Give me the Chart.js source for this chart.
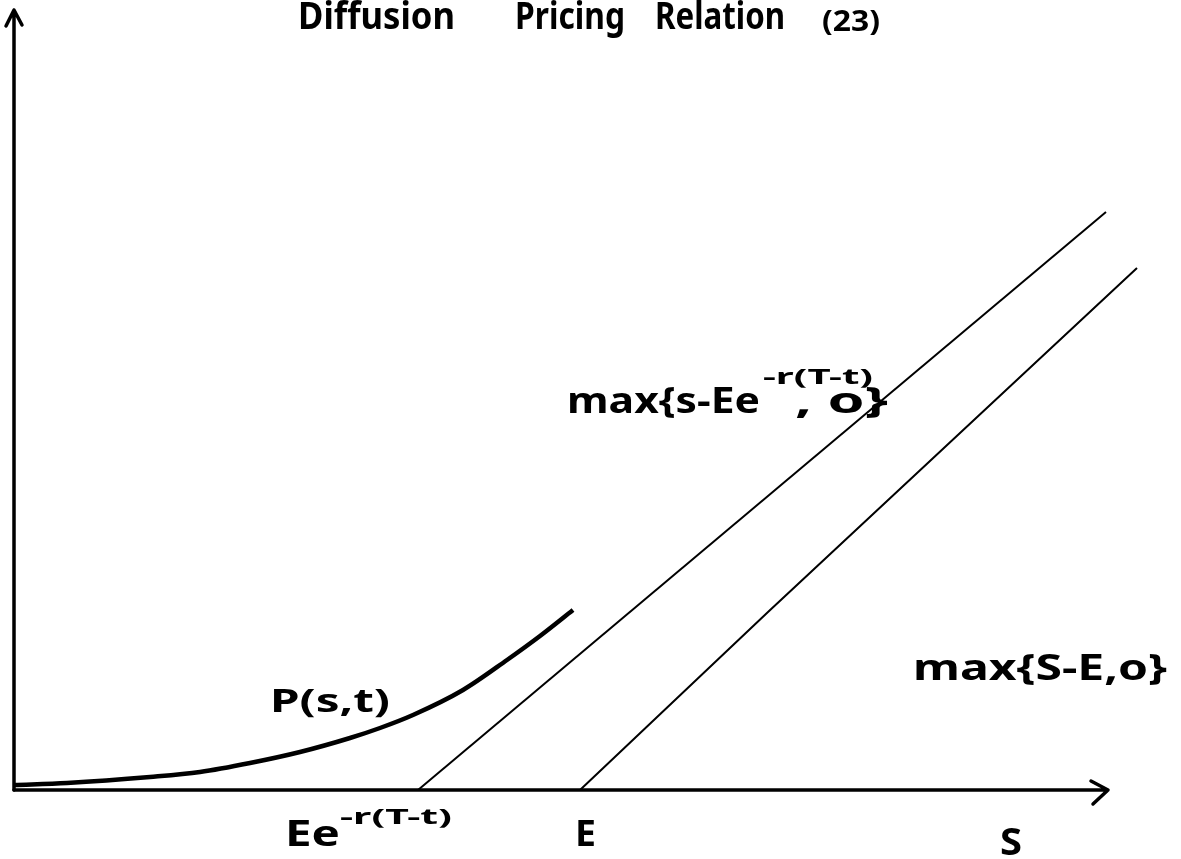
<!DOCTYPE html>
<html>
<head>
<meta charset="utf-8">
<title>Diffusion Pricing Relation</title>
<script src="https://cdn.jsdelivr.net/npm/chart.js@4.4.1/dist/chart.umd.min.js"></script>
<style>
  html, body { margin: 0; padding: 0; background: #fff; }
  #wrap { width: 1181px; height: 859px; position: relative; }
</style>
</head>
<body>
<div id="wrap"><canvas id="myChart"></canvas></div>
<script>
// option value curve P(s,t)
const curveS = [0, 5.3, 13.6, 18.6, 23.6, 28.6, 33.6, 36.6, 39.9, 44.9, 49.3, 52.6, 55.9];
const curveP = [0.5, 0.7, 1.3, 1.8, 2.7, 3.8, 5.2, 6.2, 7.5, 10.0, 13.0, 15.4, 18.0];

// max{S - E e^{-r(T-t)}, 0}
const discountedS = [40.4, 109.2];
const discountedV = [0, 57.8];

// max{S - E, 0}
const strikeS = [56.6, 75.4, 112.3];
const strikeV = [0, 17.8, 52.2];

// axis extents
const xAxisEnd = 109.4;
const yAxisEnd = 78;

// labels: text, from-x, to-x, baseline y (data units), font size
const labels = [
  ["Diffusion", 28.4, 44.1, 76.1, 38],
  ["Pricing", 50.1, 61.1, 76.1, 38],
  ["Relation", 64.1, 77.1, 76.1, 38],
  ["(23)", 80.8, 86.6, 75.9, 28],
  ["max{s-Ee", 55.3, 74.6, 37.7, 36],
  ["-r(T-t)", 74.9, 85.9, 40.6, 22],
  [", o}", 78.1, 87.4, 37.7, 36],
  ["P(s,t)", 25.6, 37.6, 7.8, 32],
  ["max{S-E,o}", 89.9, 115.3, 11.0, 36],
  ["Ee", 27.1, 32.6, -5.6, 36],
  ["-r(T-t)", 32.6, 43.8, -3.4, 22],
  ["E", 56.1, 58.2, -5.6, 36],
  ["S", 98.6, 100.8, -6.5, 38]
];

const toPts = (xs, ys) => xs.map((x, i) => ({ x: x, y: ys[i] }));

const sketchPlugin = {
  id: "sketch",
  beforeDatasetsDraw(chart) {
    const ctx = chart.ctx;
    const xs = chart.scales.x;
    const ys = chart.scales.y;
    const x0 = xs.getPixelForValue(0);
    const y0 = ys.getPixelForValue(0);
    const xe = xs.getPixelForValue(xAxisEnd);
    const ye = ys.getPixelForValue(yAxisEnd);
    ctx.save();
    ctx.strokeStyle = "#000";
    ctx.lineWidth = 3.5;
    ctx.lineCap = "round";
    ctx.lineJoin = "round";
    // y axis + arrow
    ctx.beginPath();
    ctx.moveTo(x0, y0);
    ctx.lineTo(x0, ye);
    ctx.moveTo(x0 - 8, ye + 16);
    ctx.lineTo(x0, ye);
    ctx.lineTo(x0 + 8, ye + 15);
    ctx.stroke();
    // x axis + arrow
    ctx.beginPath();
    ctx.moveTo(x0, y0);
    ctx.lineTo(xe, y0);
    ctx.moveTo(xe - 17, y0 - 9);
    ctx.lineTo(xe, y0);
    ctx.lineTo(xe - 15, y0 + 14);
    ctx.stroke();
    ctx.restore();
  },
  afterDatasetsDraw(chart) {
    const ctx = chart.ctx;
    const xs = chart.scales.x;
    const ys = chart.scales.y;
    ctx.save();
    ctx.fillStyle = "#000";
    ctx.textBaseline = "alphabetic";
    ctx.textAlign = "left";
    labels.forEach(([text, a, b, base, size]) => {
      const px0 = xs.getPixelForValue(a);
      const px1 = xs.getPixelForValue(b);
      const py = ys.getPixelForValue(base);
      ctx.font = "bold " + size + "px 'Noto Sans'";
      const w = ctx.measureText(text).width;
      const k = (px1 - px0) / w;
      ctx.save();
      ctx.translate(px0, py);
      ctx.scale(k, 1);
      ctx.fillText(text, 0, 0);
      ctx.restore();
    });
    ctx.restore();
  }
};

new Chart(document.getElementById("myChart"), {
  type: "line",
  data: {
    datasets: [
      {
        label: "P(s,t)",
        data: toPts(curveS, curveP),
        borderColor: "#000",
        borderWidth: 4.5,
        cubicInterpolationMode: "monotone",
        pointRadius: 0,
        fill: false
      },
      {
        label: "max{S-Ee^-r(T-t),0}",
        data: toPts(discountedS, discountedV),
        borderColor: "#000",
        borderWidth: 2,
        pointRadius: 0,
        fill: false
      },
      {
        label: "max{S-E,0}",
        data: toPts(strikeS, strikeV),
        borderColor: "#000",
        borderWidth: 2,
        tension: 0,
        pointRadius: 0,
        fill: false
      }
    ]
  },
  options: {
    responsive: true,
    maintainAspectRatio: false,
    animation: false,
    clip: false,
    layout: { padding: { left: 14, top: 10, right: 17, bottom: 69 } },
    scales: {
      x: { type: "linear", min: 0, max: 115, display: false },
      y: { type: "linear", min: 0, max: 78, display: false }
    },
    plugins: {
      legend: { display: false },
      tooltip: { enabled: false }
    }
  },
  plugins: [sketchPlugin]
});
</script>
</body>
</html>
